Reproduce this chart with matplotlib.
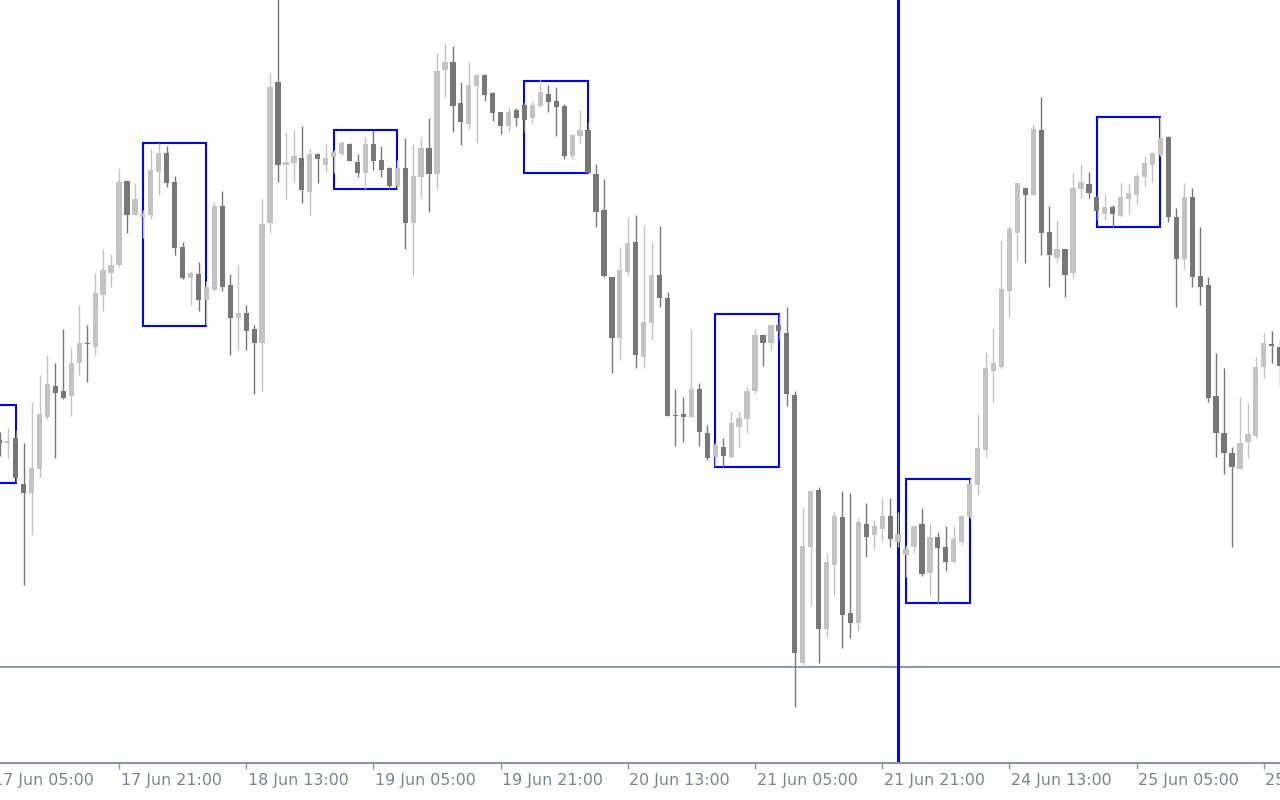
import numpy as np
import matplotlib
matplotlib.use("Agg")
import matplotlib.pyplot as plt
import matplotlib.transforms as mtransforms

# H1 candles, 17 Jun 06:00 -> 25 Jun 23:00 (weekend gap removed)
# prices stored in points (0.0001) above 1.0000
opens = [560, 557, 562, 516, 507, 531, 583, 614, 609, 604, 637, 657, 653, 705, 727, 735,
         819, 785, 783, 785, 828, 847, 818, 753, 722, 726, 700, 710, 794, 715, 682, 687,
         671, 657, 777, 918, 835, 837, 842, 808, 846, 835, 843, 846, 856, 838, 827, 856,
         840, 832, 814, 832, 777, 823, 852, 826, 930, 938, 897, 876, 914, 925, 907, 888,
         874, 890, 895, 882, 894, 906, 899, 894, 844, 864, 870, 826, 790, 723, 662, 728,
         758, 643, 677, 725, 702, 585, 586, 583, 611, 567, 543, 553, 543, 573, 581, 609,
         665, 657, 675, 667, 605, 337, 453, 510, 371, 435, 483, 387, 377, 476, 465, 471,
         484, 458, 445, 453, 476, 427, 463, 453, 438, 458, 483, 515, 550, 629, 633, 709,
         767, 812, 805, 870, 768, 742, 751, 727, 811, 816, 803, 786, 793, 784, 801, 805,
         823, 835, 845, 863, 783, 741, 803, 724, 715, 604, 567, 547, 531, 558, 564, 633,
         656, 653]
highs = [568, 572, 570, 557, 598, 625, 645, 637, 671, 652, 695, 675, 727, 751, 746, 832,
         820, 817, 790, 851, 857, 854, 824, 758, 729, 738, 719, 798, 809, 726, 735, 695,
         675, 801, 927, 1005, 868, 870, 874, 852, 847, 856, 850, 859, 857, 846, 863, 870,
         854, 833, 840, 862, 856, 863, 882, 947, 957, 954, 918, 938, 926, 926, 908, 888,
         893, 892, 898, 899, 920, 915, 913, 896, 866, 890, 878, 836, 821, 723, 753, 783,
         785, 775, 758, 774, 708, 611, 603, 671, 617, 575, 557, 562, 589, 589, 613, 671,
         665, 675, 686, 693, 609, 492, 509, 513, 447, 488, 509, 507, 482, 497, 480, 502,
         502, 488, 455, 474, 492, 476, 468, 474, 474, 484, 521, 586, 648, 672, 760, 774,
         817, 812, 876, 903, 794, 780, 751, 827, 836, 828, 805, 806, 795, 817, 817, 827,
         844, 848, 883, 864, 792, 817, 812, 773, 723, 647, 632, 553, 603, 597, 643, 667,
         669, 660]
lows = [544, 542, 518, 415, 465, 523, 581, 542, 601, 584, 625, 618, 645, 689, 713, 733,
        767, 785, 762, 781, 805, 813, 745, 721, 695, 689, 675, 709, 709, 645, 650, 650,
        606, 609, 767, 818, 801, 818, 797, 785, 817, 828, 827, 844, 839, 823, 811, 830,
        823, 811, 811, 751, 725, 802, 788, 811, 903, 868, 855, 871, 857, 899, 879, 866,
        868, 874, 868, 877, 893, 888, 864, 841, 841, 857, 827, 773, 723, 627, 640, 725,
        632, 632, 660, 693, 584, 554, 558, 583, 554, 540, 534, 533, 542, 553, 567, 606,
        634, 650, 660, 594, 293, 334, 394, 337, 363, 405, 352, 362, 369, 443, 451, 459,
        453, 453, 423, 447, 424, 405, 396, 429, 437, 455, 482, 505, 543, 598, 632, 683,
        739, 737, 805, 745, 713, 737, 703, 722, 802, 802, 780, 780, 773, 783, 786, 796,
        814, 818, 844, 778, 693, 731, 713, 695, 598, 543, 526, 453, 531, 542, 562, 622,
        637, 614]
closes = [557, 559, 522, 507, 532, 586, 616, 607, 602, 637, 657, 656, 707, 730, 735, 818,
          785, 801, 786, 830, 847, 817, 752, 722, 727, 700, 713, 794, 713, 682, 687, 669,
          657, 776, 913, 835, 838, 844, 810, 846, 841, 842, 848, 857, 839, 827, 856, 839,
          830, 814, 832, 777, 824, 852, 826, 929, 938, 894, 878, 915, 925, 905, 887, 874,
          888, 882, 880, 895, 908, 898, 893, 844, 865, 870, 827, 788, 724, 662, 730, 757,
          645, 678, 725, 702, 584, 584, 583, 611, 568, 542, 555, 544, 577, 582, 609, 665,
          657, 675, 669, 606, 347, 454, 509, 371, 438, 484, 385, 377, 478, 463, 474, 484,
          461, 466, 451, 474, 426, 463, 452, 438, 461, 484, 516, 552, 632, 637, 711, 771,
          817, 805, 871, 767, 745, 751, 725, 812, 818, 807, 789, 793, 786, 803, 807, 824,
          837, 847, 862, 783, 741, 803, 723, 713, 602, 567, 547, 533, 557, 566, 633, 657,
          654, 634]

# drawn rectangles (first / last bar, top / bottom in points)
box_first = [-6, 18, 42, 66, 90, 114, 138]
box_last = [2, 26, 50, 74, 98, 122, 146]
box_top = [595, 857, 870, 919, 686, 521, 883]
box_bottom = [517, 674, 811, 827, 533, 397, 773]

hline_level = 333
vline_bar = 113

tick_bars = [-1, 15, 31, 47, 63, 79, 95, 111, 127, 143, 159]
tick_labels = ["17 Jun 05:00", "17 Jun 21:00", "18 Jun 13:00", "19 Jun 05:00",
               "19 Jun 21:00", "20 Jun 13:00", "21 Jun 05:00", "21 Jun 21:00",
               "24 Jun 13:00", "25 Jun 05:00", "25 Jun 21:00"]

pt = 0.0001
o = 1.0 + np.array(opens) * pt
h = 1.0 + np.array(highs) * pt
l = 1.0 + np.array(lows) * pt
c = 1.0 + np.array(closes) * pt
x = np.arange(len(o))

up_col = "#c3c3c3"
dn_col = "#777777"
cols = np.where(c > o, up_col, dn_col)

fig = plt.figure(figsize=(12.8, 8), dpi=100)
ax = fig.add_axes([0, 37 / 800, 1, 763 / 800])
ax.set_facecolor("white")

# objects sit behind the candles
for f, e, t, b in zip(box_first, box_last, box_top, box_bottom):
    ax.add_patch(plt.Rectangle((f, 1.0 + b * pt), e - f, (t - b) * pt, fill=False,
                               edgecolor="#0000ff", linewidth=1.5, zorder=1))
ax.axhline(1.0 + hline_level * pt, color="#778899", linewidth=1.2, zorder=1)
ax.axvline(vline_bar, color="#0000ff", linewidth=2.2, zorder=1)

# candles
ax.vlines(x, l, h, colors=cols, linewidth=1.0, zorder=3)
body = np.maximum(np.abs(c - o), 1.2 * pt)
ax.bar(x, body, bottom=np.minimum(o, c), width=0.66, color=cols, linewidth=0, zorder=4)

ax.set_xlim(0.03, 161.04)
ax.set_ylim(1.0237, 1.1)

for s in ["top", "right", "left"]:
    ax.spines[s].set_visible(False)
ax.spines["bottom"].set_color("#8f949c")
ax.spines["bottom"].set_linewidth(1.5)
ax.set_yticks([])
ax.set_xticks([b for b in tick_bars if b >= 0])
ax.set_xticklabels([])
ax.tick_params(axis="x", direction="out", length=4, width=1, color="#8f949c")

# time labels; the first and last run off the chart edges like in the terminal
trans = mtransforms.blended_transform_factory(ax.transData, ax.transAxes)
for b, lab in zip(tick_bars, tick_labels):
    ax.text(b + 0.2, -17 / 763, lab, transform=trans, ha="left", va="center",
            fontsize=11.4, color="#7c828c", clip_on=False)

fig.savefig("out.png", dpi=100, facecolor="white")
